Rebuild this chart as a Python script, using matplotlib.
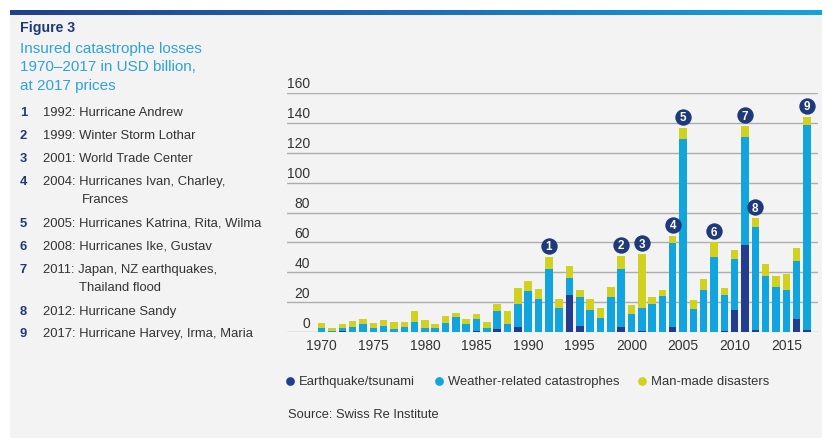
import matplotlib
matplotlib.use("Agg")
import matplotlib.pyplot as plt
import numpy as np
import matplotlib.transforms as mtransforms
from matplotlib.colors import LinearSegmentedColormap
from matplotlib.patches import Rectangle

plt.rcParams['font.family'] = ['Liberation Sans', 'DejaVu Sans']

# ---------------- data ----------------
years = list(range(1970, 2018))
earthquake = [0.2, 0.3, 0.8, 0.2, 0.2, 0.2, 0.2, 0.2, 0.2, 0.2,
              0.2, 0.2, 0.2, 0.2, 0.2, 0.9, 0.2, 2.0, 0.2, 3.1,
              0.2, 0.2, 0.2, 0.2, 25.1, 3.8, 0.2, 0.2, 0.2, 3.1,
              0.2, 0.9, 0.2, 0.2, 3.1, 0.2, 0.2, 0.3, 0.3, 0.7,
              14.8, 58.4, 1.6, 0.3, 0.3, 0.3, 8.7, 1.3]
weather = [2.7, 0.6, 1.9, 3.4, 5.0, 2.7, 3.6, 1.6, 3.4, 6.5,
           2.7, 2.7, 5.8, 9.6, 5.4, 7.6, 2.7, 11.8, 5.2, 15.9,
           27.5, 22.1, 41.8, 15.9, 11.2, 19.5, 14.6, 9.2, 23.5, 38.8,
           11.7, 15.0, 18.6, 23.8, 56.3, 129.3, 15.0, 28.1, 49.8, 24.4,
           34.2, 72.2, 68.4, 37.3, 29.9, 28.1, 38.7, 137.0]
manmade = [2.9, 1.8, 2.6, 3.6, 3.5, 3.2, 4.0, 4.7, 3.4, 7.2,
           5.4, 2.2, 4.7, 3.1, 3.1, 3.8, 3.8, 4.7, 8.7, 10.2,
           6.7, 6.7, 8.4, 6.0, 7.8, 4.7, 7.6, 7.0, 6.3, 9.0,
           6.2, 36.3, 4.3, 4.0, 5.1, 7.1, 6.3, 6.9, 9.9, 4.4,
           5.6, 7.2, 6.3, 8.0, 7.2, 10.1, 8.5, 5.8]
series_labels = ["Earthquake/tsunami", "Weather-related catastrophes", "Man-made disasters"]
event_numbers = [1, 2, 3, 4, 5, 6, 7, 8, 9]
event_years = [1992, 1999, 2001, 2004, 2005, 2008, 2011, 2012, 2017]
event_texts = [
    ["1992: Hurricane Andrew"],
    ["1999: Winter Storm Lothar"],
    ["2001: World Trade Center"],
    ["2004: Hurricanes Ivan, Charley,", "Frances"],
    ["2005: Hurricanes Katrina, Rita, Wilma"],
    ["2008: Hurricanes Ike, Gustav"],
    ["2011: Japan, NZ earthquakes,", "Thailand flood"],
    ["2012: Hurricane Sandy"],
    ["2017: Hurricane Harvey, Irma, Maria"],
]
yticks = [0, 20, 40, 60, 80, 100, 120, 140, 160]
xticks = [1970, 1975, 1980, 1985, 1990, 1995, 2000, 2005, 2010, 2015]

# ---------------- style ----------------
C_EQ = "#223d8f"
C_WE = "#12a4df"
C_MM = "#d0d21f"
NAVY = "#1f3a7a"
TITLE_BLUE = "#2ea2da"
TXT = "#333333"
GRID = "#adadad"

W, H = 837, 442
fig = plt.figure(figsize=(W / 100, H / 100), dpi=100, facecolor="white")

# background / overlay axes in pixel coordinates
bg = fig.add_axes([0, 0, 1, 1], zorder=0)
bg.set_xlim(0, W)
bg.set_ylim(H, 0)
bg.axis("off")
bg.add_patch(Rectangle((10, 15), 812, 423, facecolor="#f3f3f3", edgecolor="none"))
cmap = LinearSegmentedColormap.from_list("bar", ["#223f8c", "#1f6cb8", "#14a3de"])
grad = np.linspace(0, 1, 400).reshape(1, -1)
bg.imshow(grad, cmap=cmap, extent=[10, 822, 15.5, 11.0], aspect="auto", zorder=1)

# left text block (y values are text centres; baseline = centre + half cap height)
bg.text(20, 27 + 5, "Figure 3", fontsize=10.2, fontweight="bold", color=NAVY, va="baseline", ha="left")
for i, line in enumerate(["Insured catastrophe losses", "1970\u20132017 in USD billion,", "at 2017 prices"]):
    bg.text(20, 47 + i * 18.7 + 5.5, line, fontsize=11, color=TITLE_BLUE, va="baseline", ha="left")

row_y = [111, 134, 157, 180, 222, 245, 268, 310, 332]
second_x = {3: 81.5, 6: 79}
for idx, (num, lines) in enumerate(zip(event_numbers, event_texts)):
    y = row_y[idx] + 4.7
    bg.text(20, y, str(num), fontsize=9.4, fontweight="bold", color=NAVY, va="baseline", ha="left")
    bg.text(43, y, lines[0], fontsize=9.4, color=TXT, va="baseline", ha="left")
    if len(lines) > 1:
        bg.text(second_x[idx], y + 18.5, lines[1], fontsize=9.4, color=TXT, va="baseline", ha="left")

# legend
leg_x = [290, 439, 642]
for lx, lab, col in zip(leg_x, series_labels, [C_EQ, C_WE, C_MM]):
    bg.plot([lx], [380.5], "o", ms=6.3, color=col, mec="none")
    bg.text(lx + 9, 380.5 + 4.6, lab, fontsize=9.4, color=TXT, va="baseline", ha="left")
bg.text(288, 413 + 4.6, "Source: Swiss Re Institute", fontsize=9.3, color=TXT, va="baseline", ha="left")

# ---------------- chart ----------------
x0, x1, yb, yt = 287, 818, 332, 93
ax = fig.add_axes([x0 / W, (H - yb) / H, (x1 - x0) / W, (yb - yt) / H], zorder=2)
ax.set_facecolor("none")
for s in ax.spines.values():
    s.set_visible(False)
ax.set_xlim(1966.64, 2018.07)
ax.set_ylim(0, 160)
ax.set_xticks([])
ax.set_yticks([])

for v in yticks:
    ax.axhline(v, color=GRID, lw=1.0, zorder=0)

eq = np.array(earthquake)
we = np.array(weather)
mm = np.array(manmade)
bw = 0.73
ax.bar(years, eq, width=bw, color=C_EQ, zorder=2, linewidth=0)
ax.bar(years, we, width=bw, bottom=eq, color=C_WE, zorder=2, linewidth=0)
ax.bar(years, mm, width=bw, bottom=eq + we, color=C_MM, zorder=2, linewidth=0)

# y tick labels placed above grid lines
ylab_tr = mtransforms.offset_copy(
    mtransforms.blended_transform_factory(ax.transAxes, ax.transData), fig=fig, y=10, units="dots")
for v in yticks:
    ax.text((310 - x0) / (x1 - x0), v, str(v), transform=ylab_tr, ha="right", va="center_baseline",
            fontsize=10, color=TXT)

# x tick labels
xlab_tr = mtransforms.offset_copy(
    mtransforms.blended_transform_factory(ax.transData, ax.transAxes), fig=fig, y=-13, units="dots")
for xv in xticks:
    ax.text(xv, 0, str(xv), transform=xlab_tr, ha="center", va="center_baseline", fontsize=10, color=TXT)

# event markers
totals = eq + we + mm
circ_tr = mtransforms.offset_copy(ax.transData, fig=fig, y=11, units="dots")
for num, yr in zip(event_numbers, event_years):
    top = totals[years.index(yr)]
    ax.plot([yr], [top], "o", ms=11.8, color=NAVY, mec="none", transform=circ_tr, clip_on=False, zorder=5)
    ax.text(yr, top, str(num), transform=circ_tr, ha="center", va="center_baseline", fontsize=8.4,
            fontweight="bold", color="white", zorder=6, clip_on=False)

fig.savefig("out.png", dpi=100, facecolor="white")
